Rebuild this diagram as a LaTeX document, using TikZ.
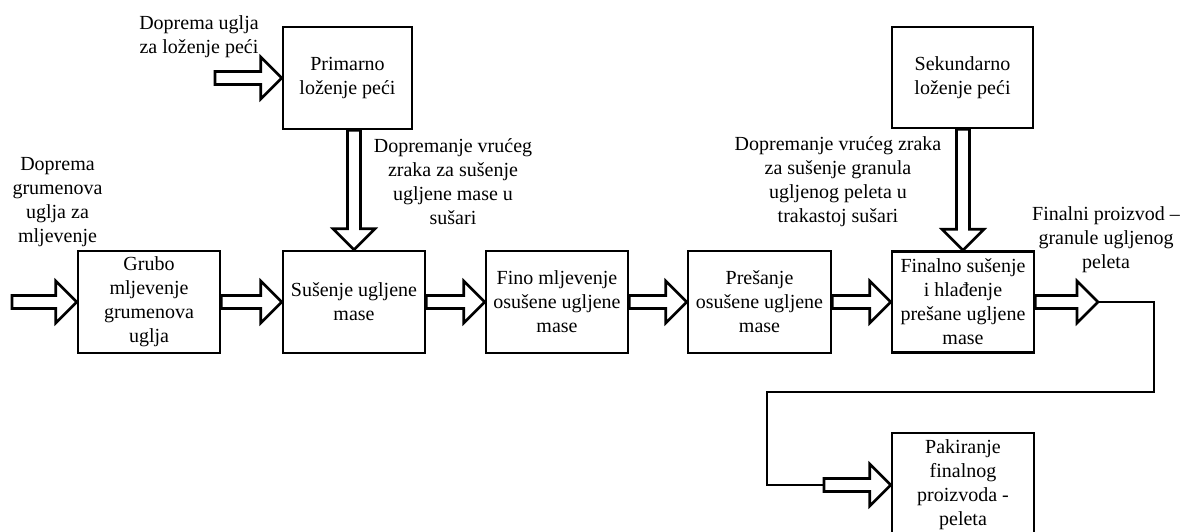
\documentclass[tikz,border=0pt]{standalone}
\usepackage{fontspec}
\setmainfont{Liberation Serif}
\usetikzlibrary{calc}
\tikzset{
  box/.style={draw, line width=2.6pt, align=center, inner sep=0pt, font=\fontsize{20}{24}\selectfont},
  lbl/.style={align=center, inner sep=0pt, font=\fontsize{20}{24}\selectfont},
  blk/.style={draw, line width=2.6pt, line join=miter, fill=white},
  route/.style={draw, line width=2.6pt, line join=miter}
}
\newcommand\harrow[2]{\path[blk] let \p1=(#1), \p2=(#2) in
  (\x1,\y2+6.5pt) -- (\x2-21pt,\y2+6.5pt) -- (\x2-21pt,\y2+21pt) -- (\x2,\y2)
  -- (\x2-21pt,\y2-21pt) -- (\x2-21pt,\y2-6.5pt) -- (\x1,\y2-6.5pt) -- cycle;}
\newcommand\varrow[2]{\path[blk] let \p1=(#1), \p2=(#2) in
  (\x2-6.5pt,\y1) -- (\x2-6.5pt,\y2+21pt) -- (\x2-21pt,\y2+21pt) -- (\x2,\y2)
  -- (\x2+21pt,\y2+21pt) -- (\x2+6.5pt,\y2+21pt) -- (\x2+6.5pt,\y1) -- cycle;}
\begin{document}
\begin{tikzpicture}[x=1pt,y=-1pt]
\useasboundingbox (0,0) rectangle (1180,531);
\clip (0,0) rectangle (1180,531);
\fill[white] (0,0) rectangle (1180,531);
% boxes
\node[box, minimum width=129pt, minimum height=102pt] (prim) at (347.5,78) {Primarno\\loženje peći};
\node[box, minimum width=141pt, minimum height=101pt] (sek) at (962.5,77.5) {Sekundarno\\loženje peći};
\node[box, minimum width=142pt, minimum height=102pt] (grubo) at (149,302) {Grubo\\mljevenje\\grumenova\\uglja};
\node[box, minimum width=142pt, minimum height=102pt] (suse) at (354,302) {Sušenje ugljene\\mase};
\node[box, minimum width=142pt, minimum height=102pt] (fino) at (557,302) {Fino mljevenje\\osušene ugljene\\mase};
\node[box, minimum width=143pt, minimum height=102pt] (pres) at (759.5,302) {Prešanje\\osušene ugljene\\mase};
\node[box, minimum width=142pt, minimum height=101pt] (final) at (963,302) {Finalno sušenje\\i hlađenje\\prešane ugljene\\mase};
\node[box, minimum width=142pt, minimum height=104pt] (pak) at (963,485) {Pakiranje\\finalnog\\proizvoda -\\peleta};
% labels
\node[lbl] (l1) at (199,37) {Doprema uglja\\za loženje peći};
\node[lbl] (l2) at (57.5,202) {Doprema\\grumenova\\uglja za\\mljevenje};
\node[lbl] (l3) at (453,182) {Dopremanje vrućeg\\zraka za sušenje\\ugljene mase u\\sušari};
\node[lbl] (l4) at (838,182) {Dopremanje vrućeg zraka\\za sušenje granula\\ugljenog peleta u\\trakastoj sušari};
\node[lbl] (l5) at (1106,240) {Finalni proizvod –\\granule ugljenog\\peleta};
% coordinates
\coordinate (in1) at (12,302);
\coordinate (in2) at (215,78);
\coordinate (outtip) at (1098,302);
\coordinate (r1) at (1154,302);
\coordinate (r2) at (1154,392);
\coordinate (r3) at (767,392);
\coordinate (r4) at (767,485);
\coordinate (in3) at (824,485);
% block arrows
\harrow{in1}{grubo.west}
\harrow{in2}{prim.west}
\harrow{grubo.east}{suse.west}
\harrow{suse.east}{fino.west}
\harrow{fino.east}{pres.west}
\harrow{pres.east}{final.west}
\harrow{final.east}{outtip}
\varrow{prim.south}{suse.north}
\varrow{sek.south}{final.north}
\path[route] (outtip) -- (r1) -- (r2) -- (r3) -- (r4) -- (in3);
\harrow{in3}{pak.west}
\end{tikzpicture}
\end{document}
